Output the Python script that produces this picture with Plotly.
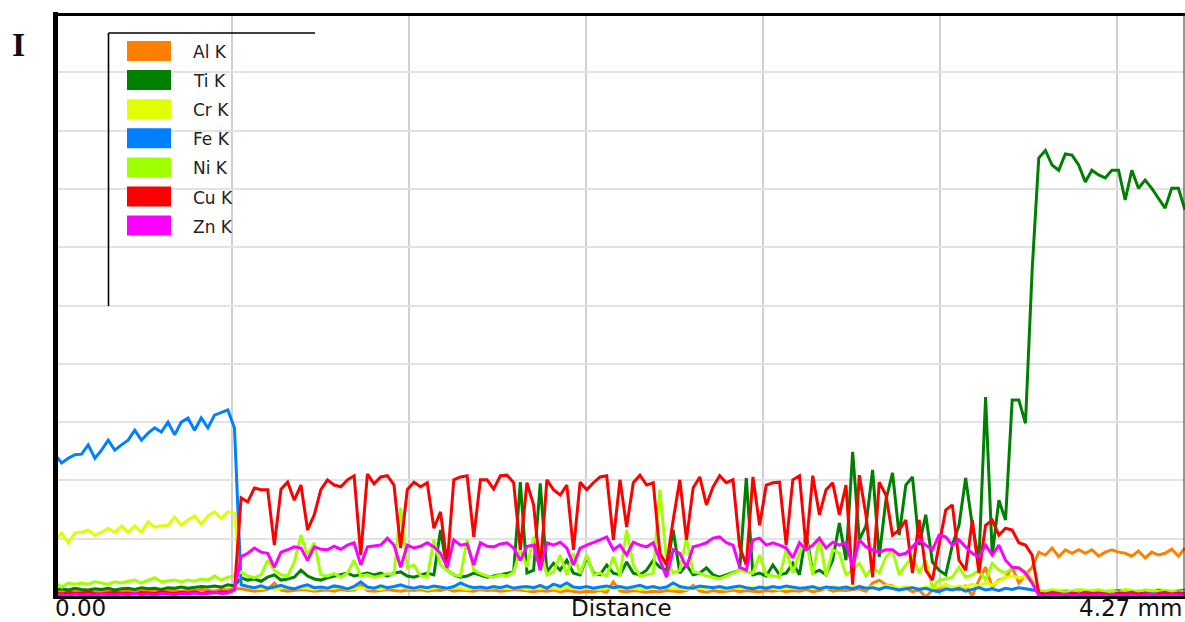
import numpy as np
import plotly.graph_objects as go

# EDS line scan: X-ray intensity (arb. counts) along the scan line, 0 - 4.27 mm
N_POINTS = 171
distance_mm = np.linspace(0.0, 4.27, N_POINTS)

al_k = [
    9, 10, 8, 11, 9, 10, 12, 9, 10, 11, 9, 12, 10, 11, 9, 12, 10, 13, 11, 10, 12, 11, 13, 12, 10, 13, 12, 14,
    14, 12, 10, 11, 13, 24, 12, 10, 11, 13, 12, 10, 11,
    12, 10, 13, 11, 12, 20, 11, 10, 12, 13, 11, 10, 12,
    11, 13, 10, 12, 11, 14, 10, 12, 11, 10, 13, 11, 12,
    10, 11, 13, 12, 10, 9, 11, 10, 12, 9, 11, 10, 8,
    10, 9, 11, 8, 26, 10, 9, 11, 10, 8, 10, 9, 11,
    10, 9, 11, 20, 10, 8, 11, 9, 10, 12, 9, 11, 10,
    9, 11, 10, 12, 9, 11, 10, 13, 9, 11, 15, 10, 12, 11,
    12, 14, 10, 24, 29, 21, 19, 12, 15, 9, 12, 0, 12, 15, 21, 15, 12, 19, 2, 29,
    51, 17, 29, 33, 51, 24, 38, 51,
    77, 72, 84, 69, 81, 75, 81, 75, 81, 70, 77, 81, 77, 75, 70, 79, 67, 77, 72, 75, 82, 70, 84,
]

ti_k = [
    12, 14, 12, 15, 13, 12, 14, 13, 15, 12, 14, 15, 13, 16, 14, 15, 13, 16, 15, 17, 15, 16, 18, 17, 19, 17, 21, 19,
    33, 29, 31, 27, 34, 38, 29, 31, 34, 46,
    36, 31, 29, 33, 36, 38, 41, 36, 38, 41,
    38, 41, 36, 41, 43, 36, 34, 38, 41, 38,
    115, 46, 38, 34, 36, 41, 38, 34, 36, 38,
    41, 43, 197, 41, 46, 195, 43, 58, 46, 63,
    41, 38, 69, 41, 38, 55, 41, 38, 60, 41,
    38, 46, 63, 51, 46, 115, 41, 55, 38, 41,
    50, 38, 34, 38, 41, 46, 204, 38, 41, 36,
    55, 38, 41, 58, 38, 110, 41,
    46, 38, 63, 127, 63, 249, 98, 122, 218, 69, 166, 213, 106, 192, 206, 89, 141,
    60, 46, 38, 89, 123, 204, 123, 63, 343, 72, 166, 132, 338, 338, 298, 560,
    753, 766, 741, 732, 760, 758, 741, 712, 732, 724, 719, 732, 732, 681, 732, 701, 715, 701, 684, 667, 701, 701, 664,
]

cr_k = [
    98, 110, 93, 110, 111, 115, 106, 111, 118, 111, 122, 111, 122, 111, 129, 120, 122, 123, 137, 123, 132, 139, 125, 139,
    146, 135, 146, 144,
    24, 17, 15, 14, 16, 13, 15, 17, 14, 16, 15, 13, 16,
    14, 15, 17, 13, 15, 16, 14, 15, 13, 16, 17, 19, 15,
    14, 16, 13, 15, 17, 14, 16, 15, 13, 15, 16, 14, 15,
    17, 14, 15, 16, 13, 15, 14, 16, 15, 13, 17, 15, 14,
    16, 15, 13, 15, 17, 14, 16, 15, 13, 14, 16, 15, 17,
    14, 15, 13, 16, 15, 14, 17, 15, 13, 16, 14, 15, 16,
    14, 17, 15, 13, 16, 15, 14, 17, 15, 16, 14, 18, 15,
    17, 16, 19, 15, 18, 14, 20, 17, 15, 18, 16, 14, 17,
    15, 18, 21, 16, 19, 17, 22, 18, 25, 20, 27, 34, 36, 33, 35,
    24, 12, 10, 13, 11, 12, 10, 13, 12, 11, 13, 10, 12, 11, 13, 12, 10, 12, 11, 13, 12, 10, 12, 11,
]

fe_k = [
    244, 230, 238, 244, 245, 261, 238, 252, 269, 252, 261, 269, 286, 269, 281, 290, 283, 300, 278, 300, 307, 286, 307,
    290, 312, 317, 321, 290,
    21, 18, 16, 19, 15, 17, 20, 16, 14, 18, 21, 16, 17,
    15, 19, 17, 14, 18, 26, 17, 15, 19, 16, 18, 21, 17,
    15, 18, 16, 19, 17, 15, 18, 24, 19, 16, 17, 15, 18,
    16, 19, 15, 17, 18, 16, 20, 15, 22, 18, 24, 17, 16,
    18, 15, 17, 19, 16, 18, 15, 17, 20, 16, 18, 15, 17,
    24, 18, 16, 15, 19, 17, 16, 18, 15, 17, 19, 16, 14,
    17, 15, 18, 16, 19, 17, 15, 16, 18, 14, 17, 16, 15,
    17, 14, 18, 15, 16, 13, 17, 15, 12, 14, 16, 13, 15,
    11, 9, 14, 12, 15, 10, 13, 16, 12, 14, 11, 15, 13, 16, 14,
    12, 9, 8, 10, 7, 9, 8, 11, 9, 7, 10, 8, 9, 11, 8, 7, 10, 9, 8, 11, 9, 7, 10, 12,
]

ni_k = [
    26, 17, 24, 22, 24, 22, 26, 24, 22, 26, 24, 27, 29, 24, 29, 33, 26, 27, 29, 26, 29, 27, 31, 29, 36, 29, 34, 36,
    43, 36, 33, 38, 63, 46, 38, 36, 60, 106,
    72, 93, 38, 36, 40, 34, 41, 63, 36, 38,
    34, 36, 40, 38, 153, 50, 55, 36, 34, 98,
    55, 46, 38, 36, 98, 46, 40, 36, 34, 38,
    36, 43, 81, 51, 103, 81, 38, 43, 72, 38,
    75, 40, 72, 38, 41, 36, 69, 36, 115, 55,
    36, 38, 41, 184, 63, 41, 46, 101, 43, 41,
    36, 34, 31, 36, 41, 46, 43, 41, 72, 38,
    36, 34, 81, 41, 75, 98, 38, 103, 36, 81,
    75, 38, 46, 58, 36, 51, 41, 69, 81, 38,
    55, 69, 41, 63, 17, 29, 31, 34, 51, 34,
    38, 46, 29, 58, 46, 41, 50, 51, 43,
    29, 10, 9, 11, 10, 8, 10, 12, 9, 10, 11, 9, 10, 8, 11, 10, 9, 12, 10, 9, 11, 10, 8, 10,
]

cu_k = [
    7, 5, 8, 6, 7, 9, 6, 5, 7, 8, 6, 7, 5, 8, 7, 6, 9, 7, 6, 8, 7, 9, 6, 8, 7, 9, 8, 12,
    170, 163, 187, 184, 184, 89, 185, 197, 166, 192,
    115, 141, 184, 201, 192, 189, 201, 208, 72, 211,
    194, 206, 208, 192, 84, 184, 197, 189, 196, 118,
    146, 55, 201, 206, 208, 103, 201, 201, 185, 208,
    209, 196, 81, 196, 158, 46, 201, 184, 175, 192,
    81, 197, 184, 196, 206, 208, 98, 201, 120, 196,
    209, 192, 196, 75, 55, 132, 201, 98, 187, 206,
    158, 189, 208, 196, 201, 86, 55, 206, 123, 192,
    196, 197, 89, 201, 208, 84, 208, 141, 184, 196,
    141, 192, 21, 209, 141, 34, 197, 175, 106, 115,
    132, 41, 132, 46, 29, 89, 149, 158, 63, 46,
    132, 41, 123, 132, 106, 118, 115, 93, 89, 72,
    7, 5, 8, 6, 4, 7, 5, 8, 6, 7, 5, 4, 7, 6, 8, 5, 7, 4, 6, 8, 5, 7, 6,
]

zn_k = [
    3, 4, 2, 5, 3, 4, 3, 5, 4, 3, 5, 4, 6, 4, 5, 3, 6, 5, 4, 6, 5, 7, 5, 6, 8, 6, 7, 12,
    69, 75, 84, 77, 75, 51, 77, 81, 86, 84,
    63, 86, 82, 81, 87, 82, 89, 93, 55, 86,
    87, 89, 101, 89, 51, 89, 84, 87, 93, 86,
    75, 51, 98, 89, 91, 55, 93, 87, 86, 91,
    93, 84, 63, 87, 89, 46, 93, 89, 94, 84,
    55, 84, 89, 93, 98, 103, 81, 89, 72, 94,
    89, 86, 93, 63, 34, 81, 75, 51, 86, 89,
    93, 101, 103, 93, 89, 51, 46, 98, 101, 89,
    93, 89, 84, 67, 93, 81, 89, 101, 84, 94,
    89, 93, 51, 98, 86, 81, 77, 81, 81, 72,
    75, 86, 98, 89, 81, 106, 103, 89, 98, 86,
    75, 69, 89, 72, 89, 63, 51, 50, 41, 24,
    3, 2, 4, 3, 5, 2, 4, 3, 2, 4, 3, 5, 2, 3, 4, 2, 3, 5, 3, 2, 4, 3, 4,
]

element_names = ["Al K", "Ti K", "Cr K", "Fe K", "Ni K", "Cu K", "Zn K"]
element_colors = ["#ff8000", "#008000", "#e0ff00", "#0080ff", "#a0ff00", "#ff0000", "#ff00ff"]
element_counts = [al_k, ti_k, cr_k, fe_k, ni_k, cu_k, zn_k]

for name, counts in zip(element_names, element_counts):
    assert len(counts) == N_POINTS, (name, len(counts))

# figure geometry (pixels)
W, H = 1185, 622
ML, MR, MT, MB = 55, 0, 14, 25
PW, PH = W - ML - MR, H - MT - MB
GRID_STEP_MM = 0.6688


def fx(px):
    """pixel column -> paper x"""
    return (px - ML) / PW


def fy(py):
    """pixel row -> paper y"""
    return (H - MB - py) / PH


fig = go.Figure()
for name, color, counts in zip(element_names, element_colors, element_counts):
    fig.add_trace(go.Scatter(
        x=distance_mm, y=counts, name=name, mode="lines",
        line=dict(color=color, width=3), showlegend=False,
    ))

shapes = []
# frame: heavy left / top / bottom edges, thin right edge
shapes.append(dict(type="line", xref="paper", yref="paper", x0=fx(55.5), x1=fx(55.5), y0=fy(12), y1=fy(599),
                   line=dict(color="black", width=5)))
shapes.append(dict(type="line", xref="paper", yref="paper", x0=fx(53), x1=1, y0=fy(14.5), y1=fy(14.5),
                   line=dict(color="black", width=3)))
shapes.append(dict(type="line", xref="paper", yref="paper", x0=fx(53), x1=1, y0=fy(597.5), y1=fy(597.5),
                   line=dict(color="black", width=3)))
shapes.append(dict(type="line", xref="paper", yref="paper", x0=fx(1184), x1=fx(1184), y0=fy(14), y1=fy(597),
                   line=dict(color="#333333", width=1)))

# legend box (top and left rules) with colour swatches
shapes.append(dict(type="line", xref="paper", yref="paper", x0=fx(108.5), x1=fx(315), y0=fy(33), y1=fy(33),
                   line=dict(color="black", width=1.6)))
shapes.append(dict(type="line", xref="paper", yref="paper", x0=fx(108.5), x1=fx(108.5), y0=fy(33), y1=fy(306),
                   line=dict(color="black", width=1.6)))

annotations = []
row0, row_step = 51, 29.1
legend_font = dict(family="DejaVu Sans, Verdana, sans-serif", size=17, color="#222222")
for k, (name, color) in enumerate(zip(element_names, element_colors)):
    cy = row0 + k * row_step
    shapes.append(dict(type="rect", xref="paper", yref="paper",
                       x0=fx(127), x1=fx(171), y0=fy(cy - 10), y1=fy(cy + 10),
                       fillcolor=color, line=dict(width=0)))
    annotations.append(dict(text=name, xref="paper", yref="paper", x=fx(191), y=fy(cy + 1),
                            xanchor="left", yanchor="middle", showarrow=False, font=legend_font))

annotations.append(dict(text="<b>I</b>", xref="paper", yref="paper", x=fx(18), y=fy(44),
                        xanchor="center", yanchor="middle", showarrow=False,
                        font=dict(family="Liberation Serif, Times New Roman, serif", size=34, color="#111111")))

axis_font = dict(family="DejaVu Sans, Verdana, sans-serif", size=23, color="#111111")
annotations.append(dict(text="0.00", xref="paper", yref="paper", x=fx(53), y=fy(623),
                        xanchor="left", yanchor="bottom", showarrow=False, font=axis_font))
annotations.append(dict(text="Distance", xref="paper", yref="paper", x=fx(621), y=fy(623),
                        xanchor="center", yanchor="bottom", showarrow=False, font=axis_font))
annotations.append(dict(text="4.27 mm", xref="paper", yref="paper", x=fx(1184), y=fy(623),
                        xanchor="right", yanchor="bottom", showarrow=False, font=axis_font))

fig.update_layout(
    width=W, height=H,
    margin=dict(l=ML, r=MR, t=MT, b=MB, pad=0),
    paper_bgcolor="white", plot_bgcolor="white",
    xaxis=dict(range=[0, 4.27], showgrid=True, gridcolor="#d0d0d0", gridwidth=1.6,
               tick0=0, dtick=GRID_STEP_MM, showticklabels=False, ticks="",
               zeroline=False, showline=False, fixedrange=True),
    yaxis=dict(range=[0, 1000], showgrid=True, gridcolor="#e2e2e2", gridwidth=1.6,
               tick0=0, dtick=100, showticklabels=False, ticks="",
               zeroline=False, showline=False, fixedrange=True),
    shapes=shapes,
    annotations=annotations,
    showlegend=False,
)

fig.write_html("out.html")
